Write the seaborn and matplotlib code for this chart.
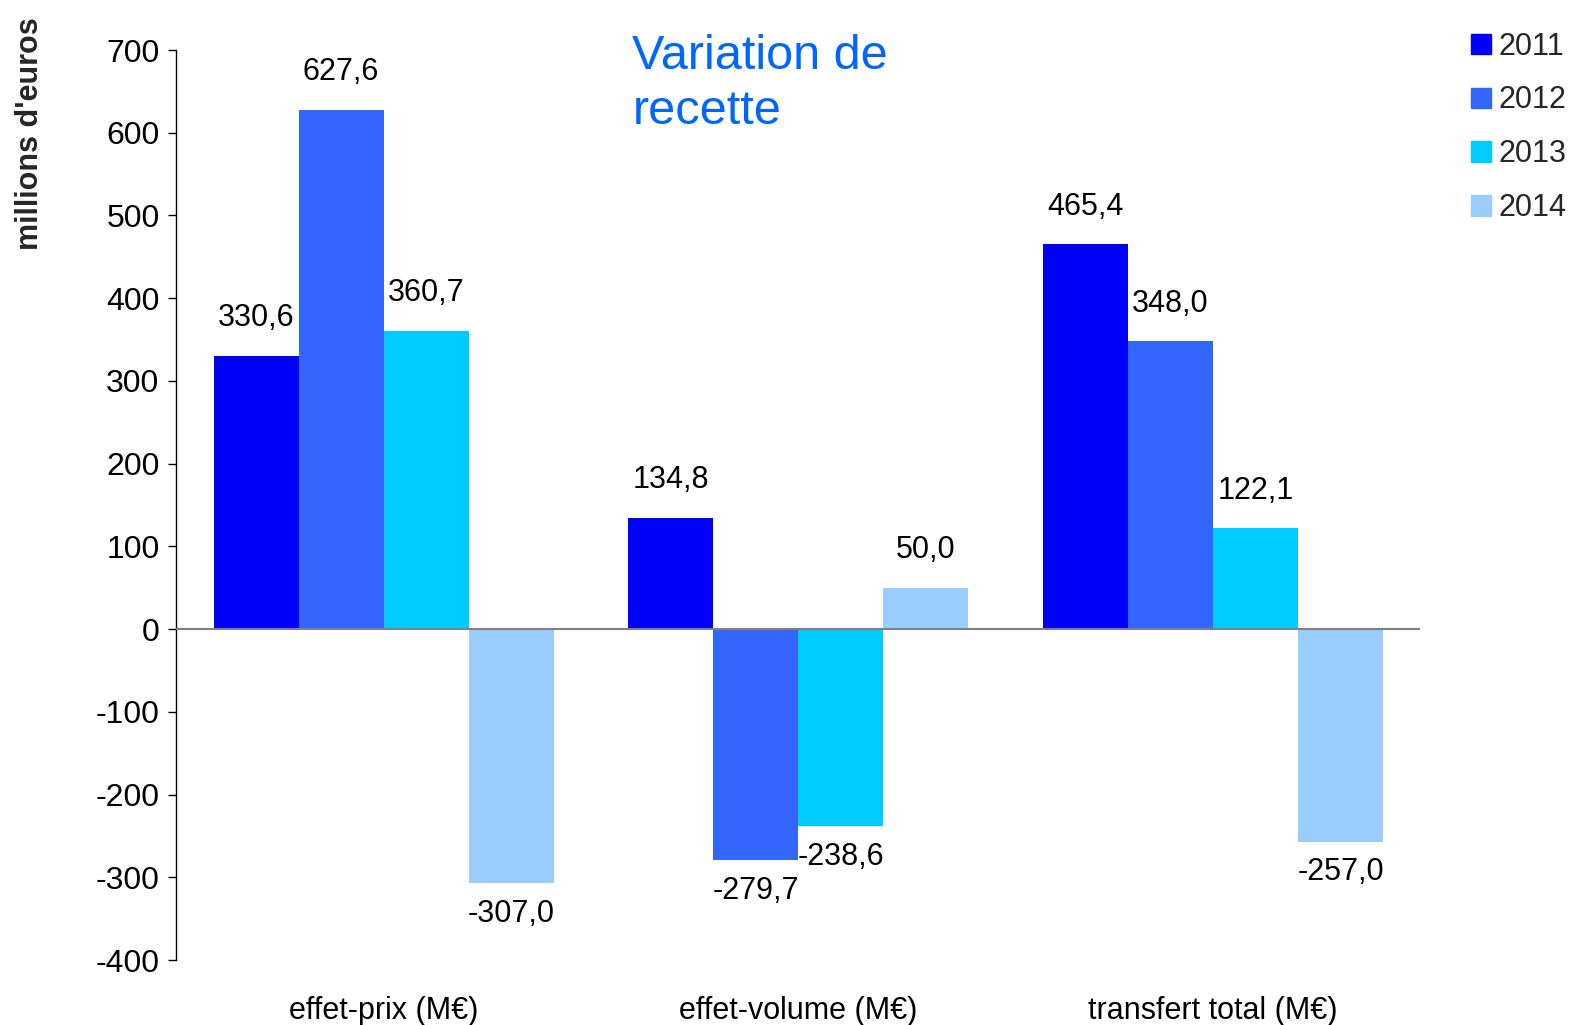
import pandas as pd
import seaborn as sns
import matplotlib.pyplot as plt

categories = ["effet-prix (M€)", "effet-volume (M€)", "transfert total (M€)"]
years = ["2011", "2012", "2013", "2014"]
v2011 = [330.6, 134.8, 465.4]
v2012 = [627.6, -279.7, 348.0]
v2013 = [360.7, -238.6, 122.1]
v2014 = [-307.0, 50.0, -257.0]
colors = ["#0000FF", "#3366FF", "#00CCFF", "#99CCFF"]

rows = []
for y, vals in zip(years, [v2011, v2012, v2013, v2014]):
    for c, v in zip(categories, vals):
        rows.append({"cat": c, "year": y, "val": v})
df = pd.DataFrame(rows)

sns.set_style("white")
plt.rcParams['font.family'] = ['Liberation Sans', 'DejaVu Sans']
plt.rcParams['axes.unicode_minus'] = False

fig = plt.figure(figsize=(15.73, 10.25), dpi=100)
ax = fig.add_axes([0.112, 0.0634, 0.791, 0.8878])

sns.barplot(data=df, x="cat", y="val", hue="year", palette=colors,
            width=0.82, saturation=1, linewidth=0, ax=ax, legend=False)

ax.set_ylim(-400, 700)
ax.set_yticks(range(-400, 701, 100))
ax.tick_params(axis="y", labelsize=23, direction="out", length=6, width=1,
               left=True, color="black", pad=6, labelcolor="black")
ax.tick_params(axis="x", labelsize=22, length=0, pad=26, labelcolor="black")
ax.set_xlabel("")
ax.set_ylabel("")
for s in ["top", "right", "bottom"]:
    ax.spines[s].set_visible(False)
ax.spines["left"].set_color("black")
ax.spines["left"].set_linewidth(1)
ax.axhline(0, color="#808080", lw=1.5, zorder=3)

for cont in ax.containers:
    for bar in cont:
        h = bar.get_height()
        x = bar.get_x() + bar.get_width() / 2
        off = 27 if h >= 0 else -22
        ax.annotate(f"{h:.1f}".replace(".", ","), (x, h), xytext=(0, off),
                    textcoords="offset points", ha="center", va="center",
                    fontsize=22, color="black")

handles = [plt.Rectangle((0, 0), 1, 1, color=c) for c in colors]
fig.legend(handles, years, loc="upper left", bbox_to_anchor=(0.9215, 0.99),
           frameon=False, fontsize=22, handlelength=0.65, handleheight=0.65,
           handletextpad=0.25, labelspacing=0.78, borderpad=0.2)

fig.text(0.402, 0.918, "Variation de\nrecette", color="#0066FF", fontsize=35,
         ha="left", va="center", linespacing=1.3)
fig.text(0.019, 0.87, "millions d'euros", rotation=90, fontsize=22,
         fontweight="bold", ha="center", va="center")

fig.savefig("out.png", dpi=100)
